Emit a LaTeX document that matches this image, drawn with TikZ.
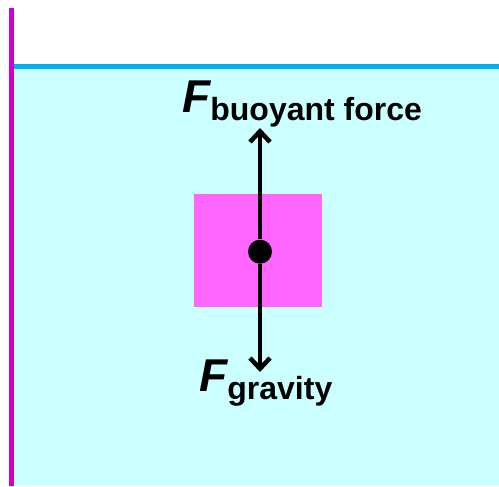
\documentclass[tikz,border=0pt]{standalone}
\usepackage{fontspec}
\setmainfont{Liberation Sans}
\usepackage{tikz}
\usetikzlibrary{positioning,arrows.meta}
\definecolor{wallpurple}{HTML}{CC00CC}
\definecolor{surfblue}{HTML}{00B0F0}
\definecolor{waterfill}{HTML}{CCFFFF}
\definecolor{blockpink}{HTML}{FF66FF}
\newcommand{\Fbig}{{\fontsize{34.5}{40}\selectfont\bfseries\itshape F}}
\newcommand{\Fsubtxt}[1]{\raisebox{-6.5pt}{\fontsize{24}{28}\selectfont\bfseries\upshape #1}}

\begin{document}
\begin{tikzpicture}[x=0.75pt, y=-0.75pt,
  block/.style={fill=blockpink, draw=none, minimum width=96.4pt, minimum height=84.75pt, inner sep=0pt},
  dot/.style={circle, fill=black, minimum size=18pt, inner sep=0pt},
  force/.style={-{Straight Barb[length=8pt, width=15pt]}, line width=3.4pt, black},
  forcelabel/.style={inner sep=0pt, anchor=base west},
]
  \useasboundingbox (0,0) rectangle (499,486);

  % water and vessel
  \fill[waterfill] (12,67) rectangle (499,486);
  \draw[surfblue, line width=3.75pt] (12,66.5) -- (499,66.5);
  \draw[wallpurple, line width=3.75pt] (11.5,8) -- (11.5,486);

  % floating block
  \node[block] (block) at (258,250.5) {};
  \node[dot] (cm) at (260,251.7) {};
  \coordinate (tipup) at (260,128);
  \coordinate (tipdown) at (260,372);
  \draw[force] (cm) -- (tipup);
  \draw[force] (cm) -- (tipdown);

  % labels
  \node[forcelabel] (fbuoy) at (182,112) {\Fbig\Fsubtxt{buoyant force}};
  \node[forcelabel] (fgrav) at (199,391) {\Fbig\Fsubtxt{gravity}};
\end{tikzpicture}
\end{document}
